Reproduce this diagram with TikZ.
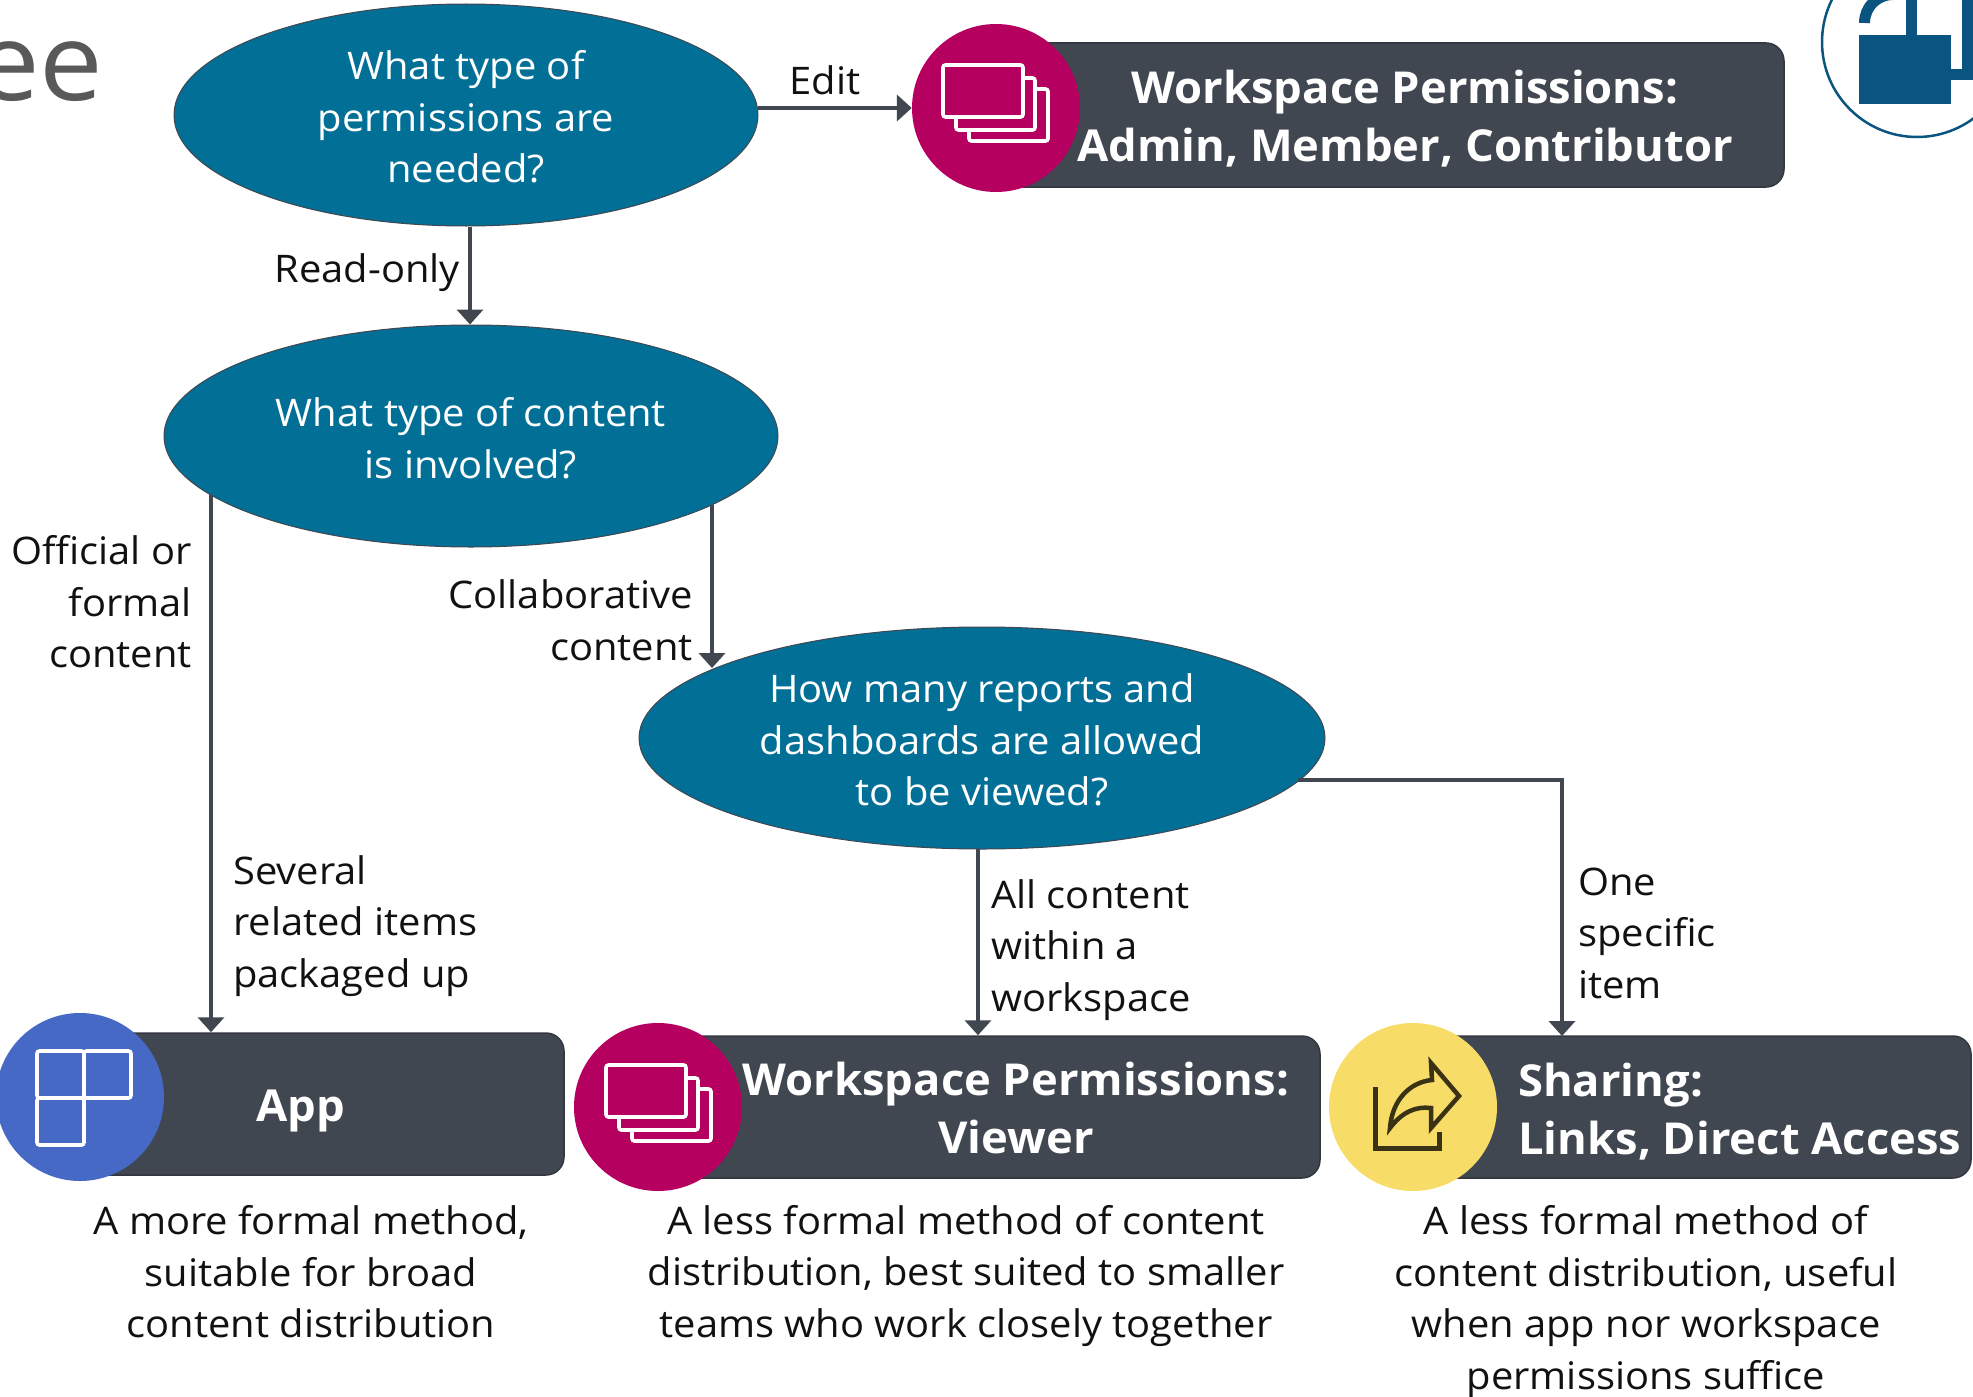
\documentclass[tikz,border=0pt]{standalone}
\usepackage{fontspec}
\setmainfont{Open Sans}
\newfontfamily\bfam[FakeStretch=1.05]{Open Sans}
\newfontfamily\hfam[FakeStretch=1.03]{Open Sans}
\usetikzlibrary{arrows.meta,shapes.geometric}
\definecolor{teal1}{HTML}{026F97}
\definecolor{barc}{HTML}{414750}
\definecolor{barl}{HTML}{33363F}
\definecolor{mag}{HTML}{B50060}
\definecolor{blu}{HTML}{4569C4}
\definecolor{yel}{HTML}{F8DC68}
\definecolor{logoc}{HTML}{0A5580}
\definecolor{txt}{HTML}{111111}
\definecolor{ttl}{HTML}{595959}
\definecolor{shareink}{HTML}{3A3214}
\tikzset{
  qnode/.style={ellipse,fill=teal1,draw=barc,line width=1pt,inner sep=0pt,minimum width=#1,minimum height=222pt,text=white,align=center,font=\qfont},
  barbox/.style={rounded corners=18pt,fill=barc,draw=barl,line width=1.5pt},
  disc/.style={circle,inner sep=0pt,minimum size=168pt},
  lab/.style={inner sep=0pt,text=txt,font=\qfont,align=#1},
  bartxt/.style={inner sep=0pt,text=white,align=center,font=\bfont},
  conn/.style={draw=barc,line width=4pt,-{Triangle[length=15pt,width=26pt]}},
  icon/.style={draw=white,line width=3.6pt,rounded corners=2.5pt}
}
\newcommand{\qfont}{\fontsize{38}{51.5}\selectfont\bfam}
\newcommand{\bfont}{\fontsize{44}{58}\selectfont\hfam\bfseries}
\newcommand{\stackicon}[2]{%
  \begin{scope}[shift={(#1,#2)}]
    \draw[icon,fill=mag] (-27,-19) rectangle (52,33);
    \draw[icon,fill=mag] (-40,-30) rectangle (39,22);
    \draw[icon,fill=mag] (-53,-43) rectangle (27,9);
  \end{scope}}
\begin{document}
\begin{tikzpicture}[x=1pt,y=-1pt]
\useasboundingbox (0,0) rectangle (1973,1397);
% title fragment
\node[anchor=base west,inner sep=0pt,text=ttl,font=\fontsize{108}{108}\selectfont\bfam] (title) at (-24,100) {ee};
% logo
\begin{scope}
\clip (0,0) rectangle (1973,1397);
\node[circle,draw=logoc,line width=2.5pt,minimum size=190pt,inner sep=0pt] (logo) at (1917,42) {};
\fill[logoc] (1859,35) rectangle (1951,104);
\fill[logoc] (1906,-5) rectangle (1917,35);
\fill[logoc] (1951,69) rectangle (1980,80);
\fill[logoc] (1962,-5) rectangle (1980,69);
\draw[logoc,line width=11pt] (1864.5,23) .. controls (1864.5,7) and (1877,-5.5) .. (1893,-5.5);
\end{scope}
% nodes
\node[qnode=584pt,text depth=0pt] (q1) at (466,115) {};
\node[text=white,align=center,font=\qfont,inner sep=0pt] (q1t) at (466,117) {What type of\\permissions are\\needed?};
\node[qnode=614pt] (q2) at (471,436) {};
\node[text=white,align=center,font=\qfont,inner sep=0pt] (q2t) at (471,438) {What type of content\\is involved?};
\node[qnode=686pt] (q3) at (982,738) {};
\node[text=white,align=center,font=\qfont,inner sep=0pt] (q3t) at (982,740) {How many reports and\\dashboards are allowed\\to be viewed?};
% bars
\node[barbox,minimum width=800pt,minimum height=144pt,inner sep=0pt] (b1) at (1384,115) {};
\node[barbox,minimum width=484pt,minimum height=142pt,inner sep=0pt] (b2) at (322,1104) {};
\node[barbox,minimum width=662pt,minimum height=142pt,inner sep=0pt] (b3) at (989,1107) {};
\node[barbox,minimum width=532pt,minimum height=142pt,inner sep=0pt] (b4) at (1705,1107) {};
% discs
\node[disc,fill=mag] (d1) at (996,108) {};
\node[disc,fill=blu] (d2) at (80,1097) {};
\node[disc,fill=mag] (d3) at (658,1107) {};
\node[disc,fill=yel] (d4) at (1413,1107) {};
% icons
\stackicon{996}{108}
\stackicon{659}{1108}
\draw[icon] (37,1051) rectangle (84,1098);
\draw[icon] (84,1051) rectangle (131,1098);
\draw[icon] (37,1098) rectangle (84,1145);
\draw[draw=shareink,line width=5pt] (1375,1087) -- (1375,1148) -- (1439,1148) -- (1439,1132);
\draw[draw=shareink,line width=4.5pt,line join=miter] (1390,1128) .. controls (1392,1100) and (1410,1082) .. (1432,1080) -- (1431,1063) -- (1459,1096) -- (1431,1128) -- (1431,1108) .. controls (1416,1106) and (1402,1112) .. (1390,1128) -- cycle;
% bar texts
\node[bartxt] (t1) at (1405,119) {Workspace Permissions:\\Admin, Member, Contributor};
\node[bartxt] (t2) at (301,1111) {App};
\node[bartxt] (t3) at (1016,1108) {Workspace Permissions:\\Viewer};
\node[bartxt,align=left,anchor=west] (t4) at (1518,1112) {Sharing:\\Links, Direct Access};
% connectors
\coordinate (c1s) at (758,108);
\draw[conn] (c1s) -- (d1.west);
\draw[conn] (q1.south -| 470,0) -- (q2.north -| 470,0);
\coordinate (c2a) at (211,495);
\coordinate (c2b) at (712,505);
\draw[conn] (c2a) -- (b2.north -| c2a);
\draw[conn] (c2b) -- (712,668);
\coordinate (c3a) at (978,849);
\draw[conn] (c3a) -- (b3.north -| c3a);
\coordinate (c3b) at (1298,780);
\draw[conn] (c3b) -| (1562,1036);
% labels
\node[lab=center,font=\qfont] (l0) at (825,80) {Edit};
\node[lab=right,anchor=east] (l1) at (460,273) {Read-only};
\node[lab=right,anchor=east] (l2) at (192,602) {Official or\\formal\\content};
\node[lab=right,anchor=east] (l3) at (693,620) {Collaborative\\content};
\node[lab=left,anchor=west] (l4) at (233,926) {Several\\related items\\packaged up};
\node[lab=left,anchor=west] (l5) at (991,950) {All content\\within a\\workspace};
\node[lab=left,anchor=west] (l6) at (1578,933) {One\\specific\\item};
\node[lab=center] (d2t) at (311,1272) {A more formal method,\\suitable for broad\\content distribution};
\node[lab=center] (d3t) at (966,1276) {A less formal method of content\\distribution, best suited to smaller\\teams who work closely together};
\node[lab=center] (d4t) at (1646,1302) {A less formal method of\\content distribution, useful\\when app nor workspace\\permissions suffice};
\end{tikzpicture}
\end{document}
